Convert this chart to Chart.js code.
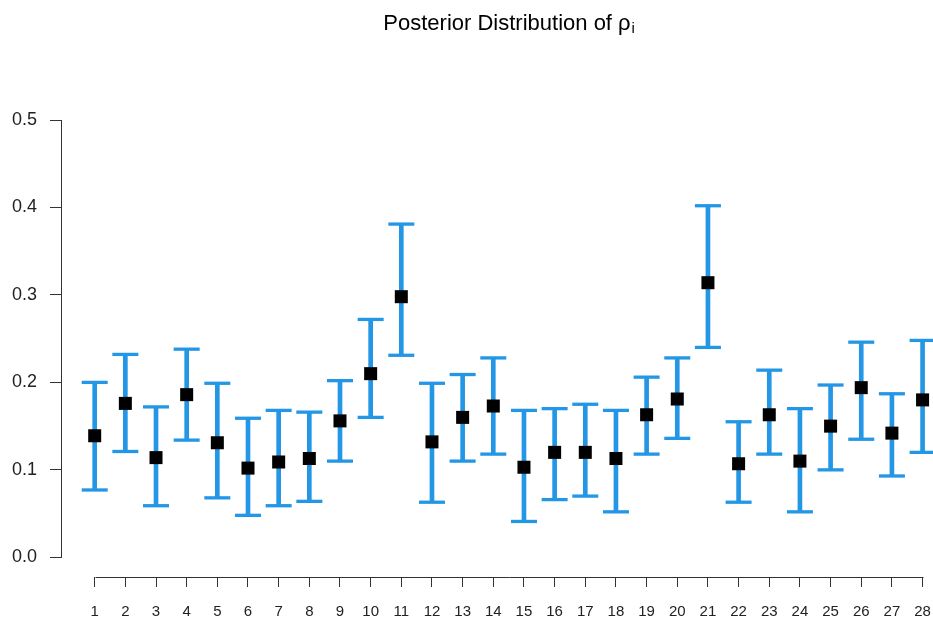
<!DOCTYPE html>
<html>
<head>
<meta charset="utf-8">
<title>Posterior Distribution</title>
<script src="https://cdn.jsdelivr.net/npm/chart.js@4/dist/chart.umd.min.js"></script>
<style>
  html, body { margin: 0; padding: 0; background: #ffffff; overflow: hidden; }
  #wrap { width: 933px; height: 620px; }
</style>
</head>
<body>
<div id="wrap"><canvas id="c" width="933" height="620"></canvas></div>
<script>
// Groups 1..28 with posterior mean and interval bounds of rho_i
const groups = ['1','2','3','4','5','6','7','8','9','10','11','12','13','14',
                '15','16','17','18','19','20','21','22','23','24','25','26','27','28'];
const means = [0.139, 0.176, 0.114, 0.186, 0.131, 0.102, 0.109, 0.113, 0.156, 0.210,
               0.298, 0.132, 0.160, 0.173, 0.103, 0.120, 0.120, 0.113, 0.163, 0.181,
               0.314, 0.107, 0.163, 0.110, 0.150, 0.194, 0.142, 0.180];
const lower = [0.077, 0.121, 0.059, 0.134, 0.068, 0.048, 0.059, 0.064, 0.110, 0.160,
               0.231, 0.063, 0.110, 0.118, 0.041, 0.066, 0.070, 0.052, 0.118, 0.136,
               0.240, 0.063, 0.118, 0.052, 0.100, 0.135, 0.093, 0.120];
const upper = [0.200, 0.232, 0.172, 0.238, 0.199, 0.159, 0.168, 0.166, 0.202, 0.272,
               0.381, 0.199, 0.209, 0.228, 0.168, 0.170, 0.175, 0.168, 0.206, 0.228,
               0.402, 0.155, 0.214, 0.170, 0.197, 0.246, 0.187, 0.248];
const yTicks = [0, 0.1, 0.2, 0.3, 0.4, 0.5];

const barBlue = '#2397E5';
const axisColor = '#333333';
const fontFamily = '"Liberation Sans", Arial, Helvetica, sans-serif';

const xs = groups.map((g, i) => i + 1);

// Axis lines spanning only the tick range, plus the title with a subscript
const axesAndTitle = {
  id: 'axesAndTitle',
  afterDraw(chart) {
    const { ctx, chartArea, scales: { x, y } } = chart;
    ctx.save();
    ctx.strokeStyle = axisColor;
    ctx.lineWidth = 1;
    ctx.beginPath();
    const xl = Math.round(chartArea.left) - 0.5;
    ctx.moveTo(xl, Math.round(y.getPixelForValue(yTicks[0])) + 0.5);
    ctx.lineTo(xl, Math.round(y.getPixelForValue(yTicks[yTicks.length - 1])) + 0.5);
    const yb = Math.round(chartArea.bottom) + 0.5;
    ctx.moveTo(Math.round(x.getPixelForValue(xs[0])) + 0.5, yb);
    ctx.lineTo(Math.round(x.getPixelForValue(xs[xs.length - 1])) + 0.5, yb);
    ctx.stroke();

    const main = 'Posterior Distribution of ρ';
    const sub = 'i';
    const mainFont = '22px ' + fontFamily;
    const subFont = '15px ' + fontFamily;
    ctx.font = mainFont;
    const wMain = ctx.measureText(main).width;
    ctx.font = subFont;
    const wSub = ctx.measureText(sub).width;
    const cx = x.getPixelForValue((xs[0] + xs[xs.length - 1]) / 2);
    const startX = cx - (wMain + wSub) / 2;
    const baseY = 30;
    ctx.fillStyle = '#000000';
    ctx.textAlign = 'left';
    ctx.textBaseline = 'alphabetic';
    ctx.font = mainFont;
    ctx.fillText(main, startX, baseY);
    ctx.font = subFont;
    ctx.fillText(sub, startX + wMain + 1, baseY + 3);
    ctx.restore();
  }
};

new Chart(document.getElementById('c'), {
  type: 'scatter',
  data: {
    datasets: [
      {
        label: 'Posterior mean',
        data: xs.map((v, i) => ({ x: v, y: means[i] })),
        pointStyle: 'rect',
        pointRadius: 9.2,
        pointHoverRadius: 9.2,
        backgroundColor: '#000000',
        borderWidth: 0,
        order: 0
      },
      {
        label: 'Upper bound',
        data: xs.map((v, i) => ({ x: v, y: upper[i] })),
        pointStyle: 'line',
        pointRadius: 13,
        pointHoverRadius: 13,
        borderColor: barBlue,
        borderWidth: 3.3,
        order: 1
      },
      {
        label: 'Lower bound',
        data: xs.map((v, i) => ({ x: v, y: lower[i] })),
        pointStyle: 'line',
        pointRadius: 13,
        pointHoverRadius: 13,
        borderColor: barBlue,
        borderWidth: 3.3,
        order: 1
      },
      {
        type: 'bar',
        label: 'Interval',
        data: xs.map((v, i) => ({ x: v, y: [lower[i], upper[i]] })),
        backgroundColor: barBlue,
        borderWidth: 0,
        barThickness: 4,
        order: 2
      }
    ]
  },
  options: {
    responsive: false,
    animation: false,
    devicePixelRatio: 1,
    events: [],
    layout: { autoPadding: false, padding: { top: 102, left: 0, right: 0, bottom: 0 } },
    plugins: {
      legend: { display: false },
      title: { display: false },
      tooltip: { enabled: false }
    },
    scales: {
      x: {
        type: 'linear',
        offset: false,
        min: -0.066,
        max: 28.34,
        afterBuildTicks: (scale) => { scale.ticks = xs.map(v => ({ value: v })); },
        afterFit: (scale) => { scale.height = 43; },
        border: { display: false },
        grid: { offset: false, drawOnChartArea: false, drawTicks: true, tickLength: 10, color: axisColor, lineWidth: 1 },
        ticks: {
          autoSkip: false,
          maxRotation: 0,
          padding: 0,
          color: '#222222',
          // tall line box drops the labels well below the tick marks
          font: { family: fontFamily, size: 15, lineHeight: '50px' },
          callback: (value) => groups[Math.round(value) - 1]
        }
      },
      y: {
        type: 'linear',
        min: -0.0225,
        max: 0.5206,
        afterBuildTicks: (scale) => { scale.ticks = yTicks.map(v => ({ value: v })); },
        afterFit: (scale) => { scale.width = 62; },
        border: { display: false },
        grid: { drawOnChartArea: false, drawTicks: true, tickLength: 12, color: axisColor, lineWidth: 1 },
        ticks: {
          padding: 13,
          color: '#222222',
          font: { family: fontFamily, size: 18 },
          callback: (value) => value.toFixed(1)
        }
      }
    }
  },
  plugins: [axesAndTitle]
});
</script>
</body>
</html>
